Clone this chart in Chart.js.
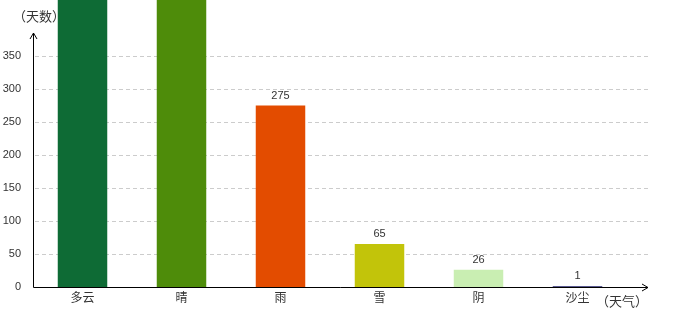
<!DOCTYPE html>
<html>
<head>
<meta charset="utf-8">
<script src="https://cdn.jsdelivr.net/npm/chart.js@4/dist/chart.umd.min.js"></script>
<style>
  body { margin: 0; background: #fff; }
</style>
</head>
<body>
<canvas id="grafico" width="680" height="320"></canvas>
<script>
// dados ----------------------------------------
var categorias = ["多云", "晴", "雨", "雪", "阴", "沙尘"];
var dias = [520, 480, 275, 65, 26, 1]; // 多云/晴 saem do topo, valor estimado
var cores = ["#0e6b35", "#4e8c0a", "#e34c00", "#c2c40a", "#c9eeb2", "#5a5a90"];
var tituloY = "（天数）";
var tituloX = "（天气）";
var ticksMax = 350;
var ticksPasso = 50;

var fonteCJK = '"Noto Sans CJK SC", "DejaVu Sans", sans-serif';
var fonteNum = '"Liberation Sans", Arial, sans-serif';

// decoração: grade tracejada, eixos com seta, rótulos --------
var decoracao = {
  id: "decoracao",
  beforeDatasetsDraw: function (chart) {
    var ctx = chart.ctx;
    var area = chart.chartArea;
    var y = chart.scales.y;
    ctx.save();
    ctx.strokeStyle = "#cccccc";
    ctx.lineWidth = 1;
    ctx.setLineDash([4, 3]);
    y.ticks.forEach(function (t) {
      if (t.value === 0) return;
      var py = Math.round(y.getPixelForValue(t.value)) + 0.5;
      ctx.beginPath();
      ctx.moveTo(area.left + 2, py);
      ctx.lineTo(area.right + 21, py);
      ctx.stroke();
    });
    ctx.setLineDash([]);
    ctx.fillStyle = "#333";
    ctx.font = "13px " + fonteCJK;
    ctx.textBaseline = "middle";
    ctx.textAlign = "left";
    ctx.fillText(tituloY, 13, 16);
    ctx.restore();
  },
  afterDatasetsDraw: function (chart) {
    var ctx = chart.ctx;
    var area = chart.chartArea;
    var x0 = Math.round(area.left) + 0.5;
    var y0 = Math.round(area.bottom) + 0.5;
    var fimX = area.right + 21;
    ctx.save();
    ctx.strokeStyle = "#000";
    ctx.lineWidth = 1;
    // eixo y
    ctx.beginPath();
    ctx.moveTo(x0, y0);
    ctx.lineTo(x0, 33);
    ctx.moveTo(x0 - 3.5, 39);
    ctx.lineTo(x0, 33);
    ctx.lineTo(x0 + 3.5, 39);
    ctx.stroke();
    // eixo x
    ctx.beginPath();
    ctx.moveTo(x0, y0);
    ctx.lineTo(fimX, y0);
    ctx.moveTo(fimX - 6, y0 - 3.5);
    ctx.lineTo(fimX, y0);
    ctx.lineTo(fimX - 6, y0 + 3.5);
    ctx.stroke();

    // valores em cima das barras
    ctx.fillStyle = "#333";
    ctx.font = "11px " + fonteNum;
    ctx.textAlign = "center";
    ctx.textBaseline = "middle";
    var meta = chart.getDatasetMeta(0);
    meta.data.forEach(function (bar, i) {
      ctx.fillText(String(dias[i]), bar.x, bar.y - 10);
    });

    ctx.font = "13px " + fonteCJK;
    ctx.textAlign = "left";
    ctx.fillText(tituloX, 596, 301);
    ctx.restore();
  }
};

new Chart(document.getElementById("grafico"), {
  type: "bar",
  data: {
    labels: categorias,
    datasets: [
      {
        data: dias,
        backgroundColor: cores,
        borderWidth: 0,
        barPercentage: 0.5,
        categoryPercentage: 1,
        minBarLength: 1
      }
    ]
  },
  options: {
    responsive: false,
    animation: false,
    layout: { padding: { top: 0, right: 53, left: 0, bottom: 0 }, autoPadding: false },
    plugins: {
      legend: { display: false },
      tooltip: { enabled: false }
    },
    scales: {
      x: {
        grid: { display: false },
        border: { display: false },
        ticks: {
          color: "#333",
          font: { size: 12, family: fonteCJK },
          padding: -5,
          maxRotation: 0
        },
        afterFit: function (s) {
          s.height = 33;
          s.paddingLeft = 0; s.paddingRight = 0;
        }
      },
      y: {
        min: 0,
        max: 435,
        grid: { display: false },
        border: { display: false },
        ticks: {
          stepSize: ticksPasso,
          color: "#333",
          font: { size: 11, family: fonteNum },
          padding: 4
        },
        afterBuildTicks: function (s) {
          s.ticks = s.ticks.filter(function (t) { return t.value <= ticksMax; });
        },
        afterFit: function (s) {
          s.width = 33;
          s.paddingTop = 0; s.paddingBottom = 0;
        }
      }
    }
  },
  plugins: [decoracao]
});
</script>
</body>
</html>
